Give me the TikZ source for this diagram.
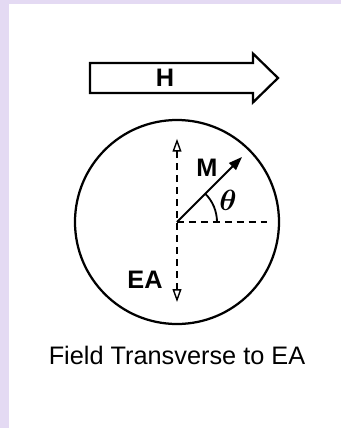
\documentclass[tikz,border=0pt]{standalone}
\usepackage{amsmath}
\usepackage{fontspec}
\setmainfont{Liberation Sans}
\usetikzlibrary{arrows.meta}
\definecolor{framebg}{HTML}{E4DAF3}
\tikzset{
  outline/.style={draw=black, line width=1.6pt},
  axisline/.style={draw=black, line width=1.3pt, dash pattern=on 5pt off 3.5pt},
  easy/.style={axisline, {Triangle[open, length=3.2mm, width=2.2mm, line width=1pt]}-{Triangle[open, length=3.2mm, width=2.2mm, line width=1pt]}},
  vlabel/.style={font=\fontsize{18}{20}\selectfont\bfseries, inner sep=0pt},
}

\begin{document}
\begin{tikzpicture}
    % frame
    \fill[framebg] (-4.425, -5.15) rectangle (4.1, 5.55);
    \fill[white] (-4.2, -5.15) rectangle (4.1, 5.45);
    \useasboundingbox (-4.425, -5.15) rectangle (4.1, 5.55);
    % applied field
    \draw[outline, line join=miter] (-2.175, 3.225) -- (1.9, 3.225) -- (1.9, 2.99) -- (2.525, 3.6)
      -- (1.9, 4.21) -- (1.9, 3.975) -- (-2.175, 3.975) -- cycle;
    \node[vlabel] (h) at (-0.3, 3.6) {H};
    % particle
    \coordinate (o) at (0, 0);
    \node[circle, outline, minimum size=5.1cm, inner sep=0pt] (grain) at (o) {};
    \coordinate (eaup) at (0, 2.08);
    \coordinate (eadown) at (0, -2.0);
    \coordinate (xend) at (2.25, 0);
    \coordinate (mtip) at (45:2.3);
    \draw[easy] (eadown) -- (eaup);
    \draw[axisline] (o) -- (xend);
    \draw[line width=1.4pt, -{Triangle[length=3.4mm, width=2.4mm]}] (o) -- (mtip);
    \draw[line width=1.3pt] (1.0, 0) arc (0:45:1.0);
    \node[vlabel] (m) at (0.75, 1.35) {M};
    \node[font=\fontsize{20}{22}\selectfont, inner sep=0pt] (theta) at (1.275, 0.55) {$\boldsymbol{\theta}$};
    \node[vlabel] (ea) at (-0.8, -1.45) {EA};
    \node[font=\fontsize{18}{20}\selectfont, inner sep=0pt] (caption) at (0, -3.325) {Field Transverse to EA};
\end{tikzpicture}
\end{document}
